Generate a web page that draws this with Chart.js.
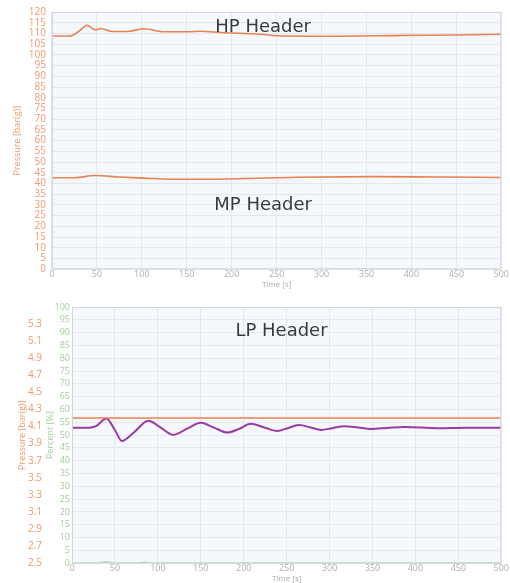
<!DOCTYPE html>
<html>
<head>
<meta charset="utf-8">
<script src="https://cdn.jsdelivr.net/npm/chart.js@4"></script>
<style>
  html, body { margin: 0; padding: 0; background: #fff; }
  body { width: 510px; height: 583px; position: relative; overflow: hidden; }
  .box { position: absolute; left: 0; width: 510px; }
  #topBox { top: 0; height: 290px; }
  #bottomBox { top: 296px; height: 287px; }
</style>
</head>
<body>
<div class="box" id="topBox"><canvas id="headerChart"></canvas></div>
<div class="box" id="bottomBox"><canvas id="lpChart"></canvas></div>
<script>
// ---- data ----
const hpTime = [0, 20, 30, 39, 48, 54, 67, 84, 102, 125, 150, 166, 188, 233, 250, 300, 393, 450, 500];
const hpPressure = [108.8, 108.8, 111, 113.8, 111.7, 112.3, 110.9, 110.9, 112.2, 110.8, 110.8, 111, 110.4, 109.6, 108.9, 108.7, 109.1, 109.3, 109.6];

const mpTime = [0, 25, 48, 75, 102, 132, 170, 207, 274, 356, 430, 500];
const mpPressure = [42.7, 42.7, 43.7, 43, 42.5, 42, 42, 42.2, 42.9, 43.2, 43, 42.8];

const lpTime = [0, 500];
const lpPressure = [4.2, 4.2];

const valveTime = [0, 20, 28, 40, 50, 58, 72, 89, 103, 118, 134, 150, 166, 181, 195, 208, 224, 239, 252, 264, 278, 290, 303, 317, 333, 348, 367, 387, 426, 460, 500];
const valvePercent = [52.9, 52.9, 53.5, 56.5, 52, 47.7, 51, 55.6, 53, 50.1, 52.5, 54.8, 52.8, 51, 52.5, 54.4, 53, 51.6, 52.8, 53.9, 53, 52, 52.7, 53.5, 53, 52.4, 52.8, 53.2, 52.7, 52.9, 52.9];

const flowTime = [0, 30, 40, 50, 75, 85, 95, 500];
const flowPercent = [0, 0, 0.5, 0, 0, 0.4, 0, 0];

const timeTicks = [0, 50, 100, 150, 200, 250, 300, 350, 400, 450, 500];
const hpmpTicks = [0, 5, 10, 15, 20, 25, 30, 35, 40, 45, 50, 55, 60, 65, 70, 75, 80, 85, 90, 95, 100, 105, 110, 115, 120];
const lpTicks = [2.5, 2.7, 2.9, 3.1, 3.3, 3.5, 3.7, 3.9, 4.1, 4.3, 4.5, 4.7, 4.9, 5.1, 5.3];
const percentTicks = [0, 5, 10, 15, 20, 25, 30, 35, 40, 45, 50, 55, 60, 65, 70, 75, 80, 85, 90, 95, 100];

// colours
const orange = '#e8824f';
const orangeText = '#ec9a6e';
const purple = '#9a3aa4';
const green = '#8fcf86';
const greenText = '#9fd096';
const gridColor = '#e3e8f0';

function points(xs, ys) {
    return xs.map((x, i) => ({ x: x, y: ys[i] }));
}

function fixedTicks(list) {
    return scale => { scale.ticks = list.map(v => ({ value: v })); };
}

function fixedWidth(w) {
    return scale => { scale.width = w; };
}

// light plot background + frame
const plotFrame = {
    id: 'plotFrame',
    beforeDraw(chart) {
        const { ctx, chartArea: a } = chart;
        ctx.save();
        ctx.fillStyle = '#f5f8fd';
        ctx.fillRect(a.left, a.top, a.width, a.height);
        ctx.restore();
    },
    afterDraw(chart) {
        const { ctx, chartArea: a } = chart;
        ctx.save();
        ctx.strokeStyle = '#d3d6db';
        ctx.lineWidth = 1;
        ctx.strokeRect(a.left + 0.5, a.top + 0.5, a.width - 1, a.height - 1);
        ctx.restore();
    }
};

// "HP Header" etc written inside the plot
const headerLabels = {
    id: 'headerLabels',
    afterDatasetsDraw(chart, args, opts) {
        const ctx = chart.ctx;
        ctx.save();
        ctx.font = '18px "DejaVu Sans"';
        ctx.fillStyle = '#3a3a3a';
        ctx.textAlign = 'center';
        ctx.textBaseline = 'middle';
        (opts.items || []).forEach(it => {
            const x = chart.scales.x.getPixelForValue(it.x);
            const y = chart.scales[it.axis].getPixelForValue(it.y);
            ctx.fillText(it.text, x, y);
        });
        ctx.restore();
    }
};

function timeAxis() {
    return {
        type: 'linear',
        min: 0,
        max: 500,
        afterBuildTicks: fixedTicks(timeTicks),
        grid: { color: gridColor, drawTicks: false },
        border: { display: false },
        ticks: { color: '#b0b0b0', font: { family: 'Open Sans', size: 9, lineHeight: 1.0 }, padding: 1, maxRotation: 0, autoSkip: false },
        title: { display: true, text: 'Time [s]', color: '#a8a8a8', font: { family: 'Open Sans', size: 8, lineHeight: 1.1 }, padding: { top: 0, bottom: 0 } }
    };
}

Chart.defaults.animation = false;

new Chart(document.getElementById('headerChart'), {
    type: 'line',
    data: {
        datasets: [
            { label: 'HP', data: points(hpTime, hpPressure), borderColor: orange, borderWidth: 1.6, cubicInterpolationMode: 'monotone', pointRadius: 0 },
            { label: 'MP', data: points(mpTime, mpPressure), borderColor: orange, borderWidth: 1.6, cubicInterpolationMode: 'monotone', pointRadius: 0 }
        ]
    },
    options: {
        responsive: true,
        maintainAspectRatio: false,
        layout: { padding: { top: 6, left: 12, right: 0, bottom: 1 } },
        scales: {
            x: timeAxis(),
            y: {
                type: 'linear',
                min: 0,
                max: 120,
                afterBuildTicks: fixedTicks(hpmpTicks),
                grid: { color: gridColor, drawTicks: false },
                border: { display: false },
                ticks: { color: orangeText, font: { family: 'Open Sans', size: 10 }, padding: 6, autoSkip: false },
                title: { display: true, text: 'Pressure [bar(g)]', color: orangeText, font: { family: 'Open Sans', size: 9 }, padding: { top: 0, bottom: 0 } }
            }
        },
        plugins: {
            legend: { display: false },
            tooltip: { enabled: false },
            headerLabels: {
                items: [
                    { text: 'HP Header', x: 235, y: 112.9, axis: 'y' },
                    { text: 'MP Header', x: 235, y: 29.8, axis: 'y' }
                ]
            }
        }
    },
    plugins: [plotFrame, headerLabels]
});

new Chart(document.getElementById('lpChart'), {
    type: 'line',
    data: {
        datasets: [
            { label: 'LP pressure', data: points(lpTime, lpPressure), yAxisID: 'pressure', borderColor: orange, borderWidth: 1.6, pointRadius: 0 },
            { label: 'Valve', data: points(valveTime, valvePercent), yAxisID: 'percent', borderColor: purple, borderWidth: 2, cubicInterpolationMode: 'monotone', pointRadius: 0 },
            { label: 'Flow', data: points(flowTime, flowPercent), yAxisID: 'percent', borderColor: green, borderWidth: 1.5, cubicInterpolationMode: 'monotone', pointRadius: 0 }
        ]
    },
    options: {
        responsive: true,
        maintainAspectRatio: false,
        layout: { padding: { top: 11, left: 0, right: 0, bottom: 0 } },
        scales: {
            x: timeAxis(),
            percent: {
                type: 'linear',
                position: 'left',
                min: 0,
                max: 100,
                afterBuildTicks: fixedTicks(percentTicks),
                afterFit: fixedWidth(28),
                grid: { color: gridColor, drawTicks: false },
                border: { display: false },
                ticks: { color: greenText, font: { family: 'Open Sans', size: 9 }, padding: 2, autoSkip: false },
                title: { display: true, text: 'Percent [%]', color: greenText, font: { family: 'Open Sans', size: 9 }, padding: { top: 1, bottom: 0 } }
            },
            pressure: {
                type: 'linear',
                position: 'left',
                min: 2.5,
                max: 5.5,
                afterBuildTicks: fixedTicks(lpTicks),
                afterFit: fixedWidth(44),
                grid: { display: false, drawTicks: false },
                border: { display: false },
                ticks: { color: orangeText, font: { family: 'Open Sans', size: 10 }, padding: 2, autoSkip: false, callback: v => v.toFixed(1) },
                title: { display: true, text: 'Pressure [bar(g)]', color: orangeText, font: { family: 'Open Sans', size: 9 }, padding: { top: 17, bottom: 0 } }
            }
        },
        plugins: {
            legend: { display: false },
            tooltip: { enabled: false },
            headerLabels: {
                items: [
                    { text: 'LP Header', x: 244, y: 90.6, axis: 'percent' }
                ]
            }
        }
    },
    plugins: [plotFrame, headerLabels]
});
</script>
</body>
</html>
